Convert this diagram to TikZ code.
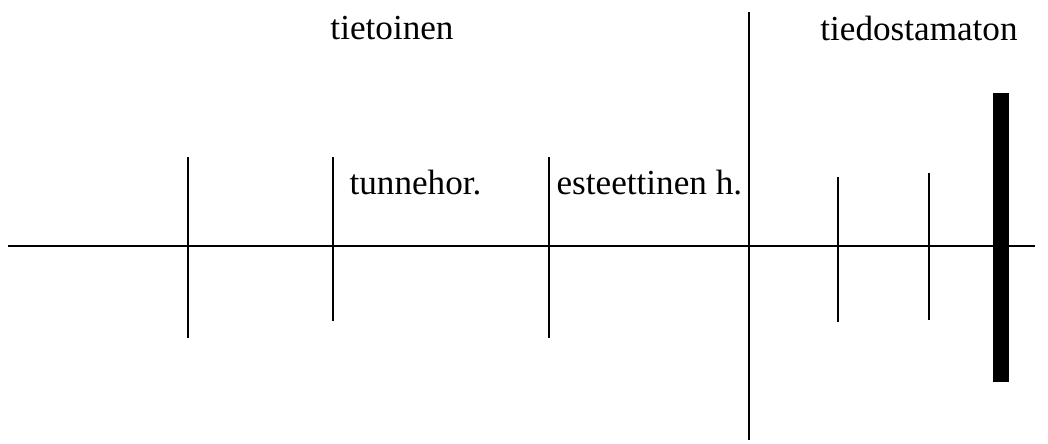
\documentclass[tikz,border=0pt]{standalone}
\usepackage{fontspec}
\setmainfont{Liberation Serif}
\usetikzlibrary{positioning}

\begin{document}
\begin{tikzpicture}[
  x=0.025cm, y=-0.025cm,
  line width=0.9pt,
  label/.style={font=\fontsize{25}{30}\selectfont, inner sep=0pt, anchor=base},
  tick/.style={draw=black, line width=0.9pt},
  wall/.style={draw=black, line width=11pt}
]
  \useasboundingbox (0,0) rectangle (1048,443);

  % headings
  \node[label] (aware) at (392,39) {tietoinen};
  \node[label] (unaware) at (919,40) {tiedostamaton};
  \node[label, anchor=base west] (feel) at (349,194) {tunnehor.};
  \node[label, anchor=base west] (aesth) at (556,194) {esteettinen h.};

  % axis
  \coordinate (axl) at (8,246);
  \coordinate (axr) at (1035,246);
  \draw[tick] (axl) -- (axr);

  % ticks
  \draw[tick] (188,157) -- (188,338);
  \draw[tick] (333,157) -- (333,321);
  \draw[tick] (549,157) -- (549,338);
  \draw[tick] (749,12) -- (749,440);
  \draw[tick] (838,177) -- (838,322);
  \draw[tick] (929,173) -- (929,320);

  % limit
  \draw[wall] (1001,93) -- (1001,382);
\end{tikzpicture}
\end{document}
